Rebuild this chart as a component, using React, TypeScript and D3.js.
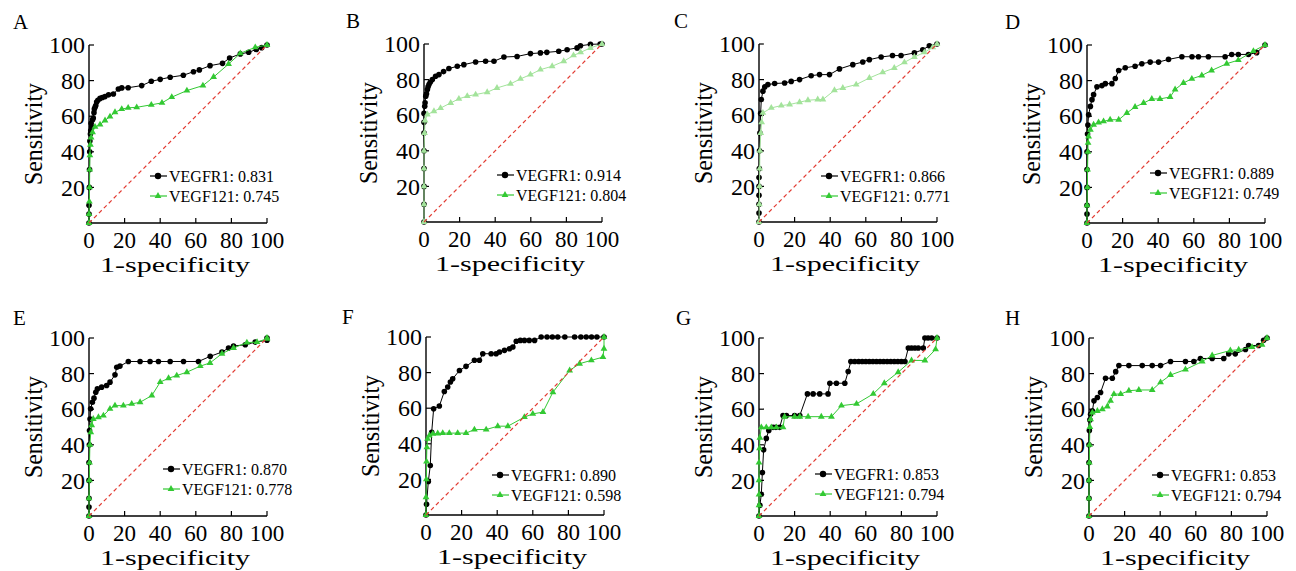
import React from 'react';
import * as d3 from 'd3';

// values, [1-specificity, sensitivity] in %
const panelLetters = ['A', 'B', 'C', 'D', 'E', 'F', 'G', 'H'];
const vegfr1Auc = ['0.831', '0.914', '0.866', '0.889', '0.870', '0.890', '0.853', '0.853'];
const vegf121Auc = ['0.745', '0.804', '0.771', '0.749', '0.778', '0.598', '0.794', '0.794'];
const xTicks = [0, 20, 40, 60, 80, 100];
const yTicks = [20, 40, 60, 80, 100];

const rocAVegfr1: [number, number][] = [[0, 0], [0, 5], [0, 10], [0.2, 20], [0.3, 30], [0.4, 40], [0.5, 46], [0.8, 50], [1, 52], [1.2, 56], [1.5, 54], [2, 58], [2.4, 59], [2.8, 62], [3, 64], [3.4, 65], [3.8, 66], [4.3, 68], [5, 69], [6.2, 70], [7.5, 70.5], [9, 71], [11, 72], [13.7, 72.5], [16.5, 75.3], [18.4, 75.9], [22, 76], [29.6, 77.2], [35, 79.6], [40, 80.7], [45.6, 81.9], [53, 83], [58.7, 85], [62, 86], [68, 88.4], [75, 89.7], [79, 92.7], [85, 95], [89.7, 95.9], [94, 97.5], [97, 98.5], [100, 100]];
const rocAVegf121: [number, number][] = [[0, 0], [0, 5], [0.2, 12], [0.3, 20], [0.4, 30], [0.5, 38], [0.8, 44], [1.2, 48], [2, 51], [3.4, 54], [6.2, 55.3], [9, 57.6], [11.8, 59.8], [14.6, 62.2], [18.4, 64], [22, 64.7], [26.8, 65], [35, 66.4], [41, 67.5], [46.5, 70.7], [55, 74.4], [64, 77.2], [70, 82], [78.4, 89.3], [85, 95.3], [93.4, 98.7], [100, 100]];

const rocBVegfr1: [number, number][] = [[0, 0], [0, 10], [0, 20], [0, 30], [0, 40], [0, 50], [0, 56], [0, 61], [0.4, 65], [0.6, 67], [1, 70.7], [1.4, 72], [1.9, 74.4], [2.3, 76], [2.8, 77.2], [3.5, 78.5], [4.7, 80], [6.5, 81.9], [8.4, 82.8], [11, 84.5], [14, 86.2], [18.7, 87.5], [22.4, 88.4], [29, 89.9], [34.6, 90.3], [39.3, 90.3], [44.9, 92.7], [52.3, 93], [59.8, 94.6], [65.4, 95], [69, 95.3], [75.7, 95.9], [80.4, 96.8], [86, 97.8], [87.9, 99], [93.5, 99.8], [99, 100], [100, 100]];
const rocBVegf121: [number, number][] = [[0, 0], [0, 10], [0, 20], [0, 30], [0, 40], [0.3, 50], [0.6, 57], [1.9, 60.4], [5.6, 62.2], [9.3, 64], [15, 66.9], [19.6, 69.2], [24.3, 70.7], [29, 71.6], [35.5, 72.9], [41, 75.3], [48.6, 77.6], [54.2, 80.4], [59.8, 82.8], [65.4, 85.6], [72, 87.5], [78.5, 90.3], [84, 93.6], [88, 95.3], [93.5, 97.8], [100, 100]];

const rocCVegfr1: [number, number][] = [[0, 0], [0, 5], [0, 10], [0, 15], [0, 20], [0, 25], [0.2, 30], [0.3, 40], [0.5, 50], [0.9, 61], [1.3, 68.8], [2.2, 73.5], [3.2, 75.9], [5, 77.2], [8.8, 77.8], [14.4, 78.1], [18.1, 79], [22.8, 80], [29.3, 82.2], [34, 82.8], [39.6, 82.8], [45.2, 86], [52.7, 88.4], [58.3, 89.9], [62, 91.2], [68.6, 92.7], [75, 93.5], [79.8, 93.5], [87.3, 95], [92, 96.8], [95.7, 99], [100, 100]];
const rocCVegf121: [number, number][] = [[0, 0], [0.2, 10], [0.3, 20], [0.4, 30], [0.5, 40], [1, 50], [1.5, 56], [2.2, 61.3], [6.9, 64.1], [12.5, 65.4], [17.2, 66], [22.8, 67.3], [27.5, 68.4], [33, 68.8], [35.9, 68.8], [42.4, 74], [47.1, 75.3], [54.6, 77.2], [62, 80.9], [69.5, 84.1], [76, 86.5], [81.7, 89.7], [87.3, 92.7], [92.9, 95.3], [97.6, 98.1], [100, 100]];

const rocDVegfr1: [number, number][] = [[0, 0], [0, 5], [0, 10], [0, 20], [0, 30], [0, 40], [0.3, 50], [0.5, 55], [0.9, 60.8], [1.9, 65.5], [2.8, 69.3], [3.7, 72.1], [5.6, 76.5], [8.4, 77.2], [10.3, 78.3], [14, 78.3], [15.9, 81.2], [17.8, 85.7], [21.5, 87.2], [27, 88.1], [30.8, 89.5], [35.5, 90.4], [40.2, 90.4], [45.8, 91.9], [53.3, 93.4], [59, 93.4], [62.6, 93.4], [68.2, 93.4], [77.6, 93.4], [81.3, 94.7], [85, 94.7], [90.7, 94.7], [95.3, 95.7], [100, 100]];
const rocDVegf121: [number, number][] = [[0, 0], [0, 10], [0.2, 20], [0.3, 30], [0.5, 40], [0.6, 45], [0.9, 48.6], [1.9, 52.4], [3.7, 55.2], [6.5, 56.5], [9.3, 57.1], [13, 58], [17.8, 58], [22.4, 61.8], [27, 65.2], [31.8, 67.4], [36.4, 69.7], [41, 69.7], [46.7, 70.8], [49.5, 75], [54.2, 78.7], [58.9, 81], [64.5, 82.9], [70, 85.7], [78.5, 89.5], [85, 91.5], [93.5, 96.6], [100, 100]];

const rocEVegfr1: [number, number][] = [[0, 0], [0, 5], [0, 10], [0, 20], [0, 30], [0.2, 40], [0.3, 48], [0.6, 54.5], [0.9, 60.2], [1.9, 63.9], [2.8, 66.2], [3.8, 69.5], [4.7, 71.4], [7.1, 72.4], [9.9, 73.3], [11.8, 75.2], [14.6, 79.3], [15.6, 83.6], [17.4, 84.2], [22.1, 86.8], [28.7, 86.8], [34.3, 86.8], [39, 86.8], [45.6, 86.8], [53.1, 86.8], [61.5, 86.8], [68.1, 89.7], [74.7, 92.1], [78.4, 94.4], [81.2, 95.5], [87.8, 96.2], [93.4, 97.7], [100, 98.7], [100, 100]];
const rocEVegf121: [number, number][] = [[0, 0], [0, 10], [0.2, 20], [0.3, 30], [0.5, 40], [1, 47], [1.5, 51], [2.4, 54.5], [5.3, 55.5], [8.1, 56.4], [11.8, 60.2], [14.6, 62], [19.3, 62], [24, 63], [28.7, 63.9], [35.3, 67.7], [40, 75.2], [44.7, 77.4], [49.3, 78.9], [55, 80.8], [62.5, 84.2], [68, 86], [74.7, 91.2], [81.2, 94.4], [88.7, 97.4], [94.4, 97.7], [100, 99.6], [100, 100]];

const rocFVegfr1: [number, number][] = [[0, 0], [0.3, 6], [1.3, 18.8], [2.4, 27.8], [3.2, 46.5], [4.3, 59.7], [7.5, 61.2], [10.3, 69.4], [12.2, 71.9], [13.7, 74.7], [15, 76.5], [18.8, 81.2], [22.5, 83.5], [27.2, 86.9], [30, 86.9], [31.9, 90.6], [36.6, 90.6], [39.4, 90.6], [41.3, 91.6], [44.1, 92.5], [46.9, 93.4], [48.8, 94.4], [50.7, 97.6], [53, 98.1], [55.3, 98.1], [58, 98.1], [61, 98.1], [64.7, 100], [68, 100], [71, 100], [74, 100], [78, 100], [83.5, 100], [87, 100], [90, 100], [93, 100], [96, 100], [100, 100]];
const rocFVegf121: [number, number][] = [[0, 0], [0, 10], [0.2, 20], [0.3, 30], [0.5, 38], [0.9, 42.8], [1.9, 44.7], [3.8, 45.6], [6.6, 45.8], [9.4, 46], [13.1, 46], [17.8, 46], [22.5, 46], [27.2, 48], [33.8, 48], [40.3, 49.9], [46, 49.9], [55.3, 55], [60, 56.8], [65.7, 57.8], [71.3, 69], [80.7, 81.2], [86.3, 85], [92.9, 86.9], [99.4, 88.7], [100, 93.4], [100, 100]];

const rocGVegfr1: [number, number][] = [[0, 0], [0.5, 6], [1.3, 12.2], [1.9, 24.4], [2.6, 37.2], [4.1, 43.6], [5.5, 48], [7.9, 49.8], [9.5, 49.8], [11.6, 49.8], [13.5, 56.4], [15.4, 56.4], [20, 56.4], [22.9, 56.4], [27.2, 68.6], [30.4, 68.6], [34.1, 68.6], [38.8, 68.6], [39.8, 74.6], [43.5, 74.6], [48.2, 74.6], [50.1, 81.2], [51.6, 86.8], [53.8, 86.8], [56, 86.8], [58, 86.8], [60, 86.8], [62, 86.8], [64, 86.8], [66, 86.8], [68, 86.8], [70, 86.8], [72, 86.8], [74, 86.8], [76, 86.8], [78, 86.8], [80, 86.8], [82, 86.8], [83.9, 94.4], [85.7, 94.4], [87.6, 94.4], [89.5, 94.4], [92.3, 94.4], [93.2, 100], [95, 100], [97, 100], [100, 100]];
const rocGVegf121: [number, number][] = [[0, 0], [0, 6], [0, 12], [0, 20], [0, 30], [0.3, 38], [0.5, 44], [1.3, 49.8], [4.1, 49.8], [6.9, 49.8], [9.8, 49.8], [13.5, 49.8], [14.4, 55.8], [20, 55.8], [22.9, 55.8], [27.6, 55.8], [35, 55.8], [40.7, 55.8], [46.3, 62], [54.8, 63], [64.2, 68.6], [70.4, 74.6], [78.2, 80.8], [85.7, 87.4], [93.2, 87.4], [99.2, 93.6], [100, 100]];

const rocHVegfr1: [number, number][] = [[0, 0], [0, 10], [0, 20], [0, 30], [0, 40], [0.2, 48], [0.5, 54], [0.9, 57.2], [1.9, 59], [2.8, 64.7], [4.7, 66.6], [6.5, 69.4], [9.3, 77.4], [13.1, 77.4], [15, 81.1], [16.8, 84.5], [22.4, 84.5], [29.9, 84.5], [35.5, 84.5], [40.2, 84.5], [45.8, 86.8], [54.2, 86.8], [58.9, 86.8], [62.6, 88.5], [69.2, 88.5], [75.7, 88.5], [78.5, 91.1], [82.2, 91.1], [87.9, 93.5], [89.7, 95.8], [95.3, 95.8], [98.1, 98.7], [100, 100]];
const rocHVegf121: [number, number][] = [[0, 0], [0, 10], [0, 20], [0.2, 30], [0.3, 40], [0.5, 50], [0.9, 54.3], [1.9, 58.1], [4.7, 59], [7.5, 60], [10.3, 61.5], [12.1, 64.7], [14, 68.5], [17.8, 68.5], [22.4, 70.4], [28, 70.8], [35.5, 70.8], [40.2, 75.1], [45.8, 79.2], [54.2, 82.3], [63.6, 86.8], [69.2, 90.2], [79.4, 93], [84.1, 93.4], [91.6, 94.9], [97.2, 96.2], [100, 100]];

const vegfr1Curves = [rocAVegfr1, rocBVegfr1, rocCVegfr1, rocDVegfr1, rocEVegfr1, rocFVegfr1, rocGVegfr1, rocHVegfr1];
const vegf121Curves = [rocAVegf121, rocBVegf121, rocCVegf121, rocDVegf121, rocEVegf121, rocFVegf121, rocGVegf121, rocHVegf121];

// panel placement (y-axis x, plot top) and small per-panel offsets
const layout = [
  { x: 89, y: 45, letterDx: 76, legDx: 61, legDy: 47, green: '#33c933' },
  { x: 424, y: 44, letterDx: 78, legDx: 73, legDy: 47, green: '#a3e39b' },
  { x: 759, y: 44, letterDx: 85, legDx: 62, legDy: 46, green: '#a3e39b' },
  { x: 1087, y: 45, letterDx: 82, legDx: 63, legDy: 50, green: '#33c933' },
  { x: 89, y: 338, letterDx: 76, legDx: 74, legDy: 47, green: '#33c933' },
  { x: 426, y: 337, letterDx: 84, legDx: 66, legDy: 40, green: '#33c933' },
  { x: 759, y: 338, letterDx: 83, legDx: 56, legDy: 42, green: '#33c933' },
  { x: 1089, y: 338, letterDx: 84, legDx: 63, legDy: 41, green: '#33c933' },
];

const SIZE = 178;
const FONT = 'Liberation Serif, DejaVu Serif, serif';
const tri = d3.symbol(d3.symbolTriangle, 20)();

function Panel({ i }: { i: number }) {
  const L = layout[i];
  const x = d3.scaleLinear().domain([0, 100]).range([0, SIZE]);
  const y = d3.scaleLinear().domain([0, 100]).range([SIZE, 0]);
  const line = d3.line<[number, number]>().x(d => x(d[0])).y(d => y(d[1]));
  const black = vegfr1Curves[i];
  const green = vegf121Curves[i];
  const lx = L.legDx;
  const ly = SIZE - L.legDy;
  return (
    <g transform={`translate(${L.x},${L.y})`}>
      <text x={-L.letterDx} y={i < 4 ? -16 : -13} fontSize={21}>{panelLetters[i]}</text>
      {/* axes */}
      <line x1={0} x2={0} y1={0} y2={SIZE} stroke="#000" strokeWidth={1.4} />
      <line x1={0} x2={SIZE} y1={SIZE} y2={SIZE} stroke="#000" strokeWidth={1.4} />
      {yTicks.map(t => (
        <g key={'y' + t}>
          <line x1={0} x2={5} y1={y(t)} y2={y(t)} stroke="#000" strokeWidth={1.2} />
          <text x={-4} y={y(t)} dy="0.34em" textAnchor="end" fontSize={24}>{t}</text>
        </g>
      ))}
      {xTicks.map(t => (
        <g key={'x' + t}>
          <line x1={x(t)} x2={x(t)} y1={SIZE} y2={SIZE - 5} stroke="#000" strokeWidth={1.2} />
          <text x={x(t)} y={SIZE + 25} textAnchor="middle" fontSize={23}>{t}</text>
        </g>
      ))}
      <text transform={`translate(-56,${SIZE / 2}) rotate(-90)`} textAnchor="middle" dy="0.35em"
        fontSize={25} textLength={102} lengthAdjust="spacingAndGlyphs">Sensitivity</text>
      <text x={SIZE / 2 - 3} y={SIZE + 49} textAnchor="middle" fontSize={22}
        textLength={150} lengthAdjust="spacingAndGlyphs">1-specificity</text>

      {/* VEGFR1 */}
      <path d={line(black) || ''} fill="none" stroke="#000" strokeWidth={1} />
      {black.map((d, k) => <circle key={k} cx={x(d[0])} cy={y(d[1])} r={2.8} fill="#000" />)}
      {/* VEGF121 */}
      <path d={line(green) || ''} fill="none" stroke={L.green} strokeWidth={1} />
      {green.map((d, k) => (
        <path key={k} d={tri || ''} transform={`translate(${x(d[0])},${y(d[1])})`} fill={L.green} />
      ))}
      {/* reference diagonal */}
      <line x1={x(0)} y1={y(0)} x2={x(100)} y2={y(100)} stroke="#e23b32" strokeWidth={1.2} strokeDasharray="4,3" />

      {/* legend */}
      <line x1={lx} x2={lx + 17} y1={ly} y2={ly} stroke="#000" strokeWidth={1.2} />
      <circle cx={lx + 8} cy={ly} r={3.2} fill="#000" />
      <text x={lx + 19} y={ly} dy="0.35em" fontSize={16}>VEGFR1: {vegfr1Auc[i]}</text>
      <line x1={lx} x2={lx + 17} y1={ly + 20} y2={ly + 20} stroke="#33c933" strokeWidth={1.2} />
      <path d={tri || ''} transform={`translate(${lx + 8},${ly + 20})`} fill="#33c933" />
      <text x={lx + 19} y={ly + 20} dy="0.35em" fontSize={16}>VEGF121: {vegf121Auc[i]}</text>
    </g>
  );
}

export default function App() {
  return (
    <svg width={1296} height={571}
      style={{ position: 'absolute', left: 0, top: 0, background: '#fff', fontFamily: FONT }}>
      {panelLetters.map((_, i) => <Panel key={i} i={i} />)}
    </svg>
  );
}
